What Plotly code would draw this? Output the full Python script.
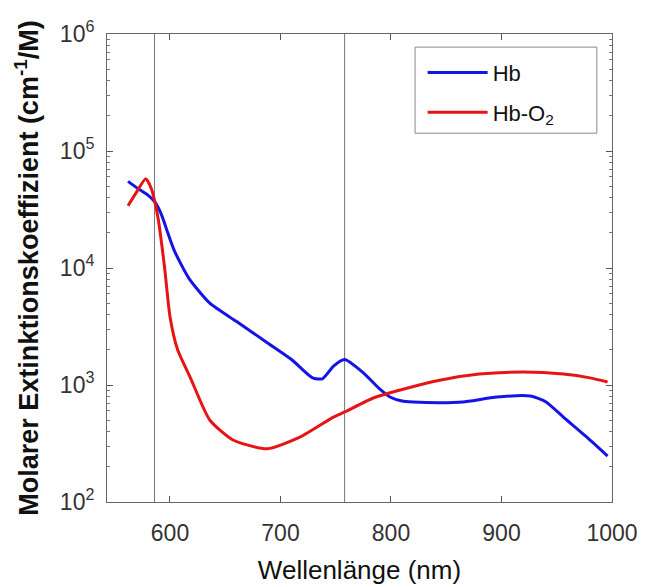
import plotly.graph_objects as go

# Wavelengths (nm) and molar extinction coefficients (cm^-1/M)
hb_wl = [562, 572, 580, 586, 592, 598, 604, 617, 636, 660, 688, 710, 729, 738, 748, 758, 775, 790, 799, 810, 820, 845, 865, 896, 926, 940, 956, 977, 996]
hb_eps = [55000, 47000, 42000, 37000, 29000, 20000, 14000, 8200, 5000, 3500, 2300, 1650, 1150, 1130, 1450, 1650, 1270, 920, 790, 730, 716, 705, 716, 789, 805, 720, 532, 360, 247]

hbo2_wl = [562, 570, 578, 583, 589, 595, 600, 607, 618, 636, 657, 688, 718, 748, 758, 784, 805, 844, 880, 920, 956, 980, 996]
hbo2_eps = [34000, 45000, 58000, 48000, 27400, 10300, 3840, 1990, 1180, 502, 339, 285, 360, 532, 588, 774, 889, 1100, 1240, 1290, 1240, 1150, 1060]

vlines_nm = [586, 758]
x_ticks = [600, 700, 800, 900, 1000]
y_tickvals = [1e2, 1e3, 1e4, 1e5, 1e6]
y_ticktext = ["10<sup>2</sup>", "10<sup>3</sup>", "10<sup>4</sup>", "10<sup>5</sup>", "10<sup>6</sup>"]
y_minor = [m * d for d in (1e2, 1e3, 1e4, 1e5) for m in (2, 3, 4, 5, 6, 7, 8, 9)]

FONT = "Liberation Sans, Arial, Helvetica, sans-serif"

fig = go.Figure()
fig.add_trace(go.Scatter(x=hb_wl, y=hb_eps, mode="lines", name="Hb",
                         line=dict(color="#1414E6", width=3, shape="spline", smoothing=0.6),
                         legendgroup="a"))
fig.add_trace(go.Scatter(x=hbo2_wl, y=hbo2_eps, mode="lines", name="Hb-O<sub>2</sub>",
                         line=dict(color="#E61414", width=3, shape="spline", smoothing=0.6),
                         legendgroup="b"))

for v in vlines_nm:
    fig.add_shape(type="line", xref="x", yref="paper", x0=v, x1=v, y0=0, y1=1,
                  line=dict(color="#777777", width=1), layer="below")

# legend frame
fig.add_shape(type="rect", xref="paper", yref="paper", x0=0.610, x1=0.970, y0=0.788, y1=0.972,
              line=dict(color="#888888", width=1), fillcolor="white", layer="below")

fig.update_layout(
    width=645, height=587,
    margin=dict(l=107, r=33, t=34, b=85),
    paper_bgcolor="white", plot_bgcolor="white",
    font=dict(family=FONT, color="#222222"),
    showlegend=True,
    legend=dict(x=0.625, y=0.962, xanchor="left", yanchor="top",
                borderwidth=0, bgcolor="rgba(0,0,0,0)",
                font=dict(size=22, family=FONT, color="#111111"),
                tracegroupgap=8, itemwidth=60),
    xaxis=dict(range=[543, 1000], tickvals=x_ticks, ticks="inside", ticklen=6,
               tickcolor="#555555", showline=True, linecolor="#666666", linewidth=1,
               mirror="allticks", showgrid=False, zeroline=False, automargin=False,
               tickfont=dict(size=23, family=FONT, color="#333333"),
               ticklabelstandoff=10, ticklabeloverflow="allow",
               title=dict(text="Wellenlänge (nm)", font=dict(size=26, family=FONT, color="#111111"),
                          standoff=16)),
    yaxis=dict(type="log", range=[2, 6], tickvals=y_tickvals, ticktext=y_ticktext,
               ticks="inside", ticklen=6, tickcolor="#555555",
               showline=True, linecolor="#666666", linewidth=1, mirror="allticks",
               showgrid=False, zeroline=False, automargin=False,
               minor=dict(tickvals=y_minor, ticks="inside", ticklen=3, tickcolor="#777777", showgrid=False),
               tickfont=dict(size=23, family=FONT, color="#333333"),
               ticklabelstandoff=7,
               title=dict(text="<b>Molarer Extinktionskoeffizient (cm<sup>-1</sup>/M)</b>",
                          font=dict(size=27, family=FONT, color="#111111"), standoff=13)),
)

fig.write_html("out.html", config={"displayModeBar": False},
               post_script="document.body.style.margin='0';document.body.style.overflow='hidden';")
